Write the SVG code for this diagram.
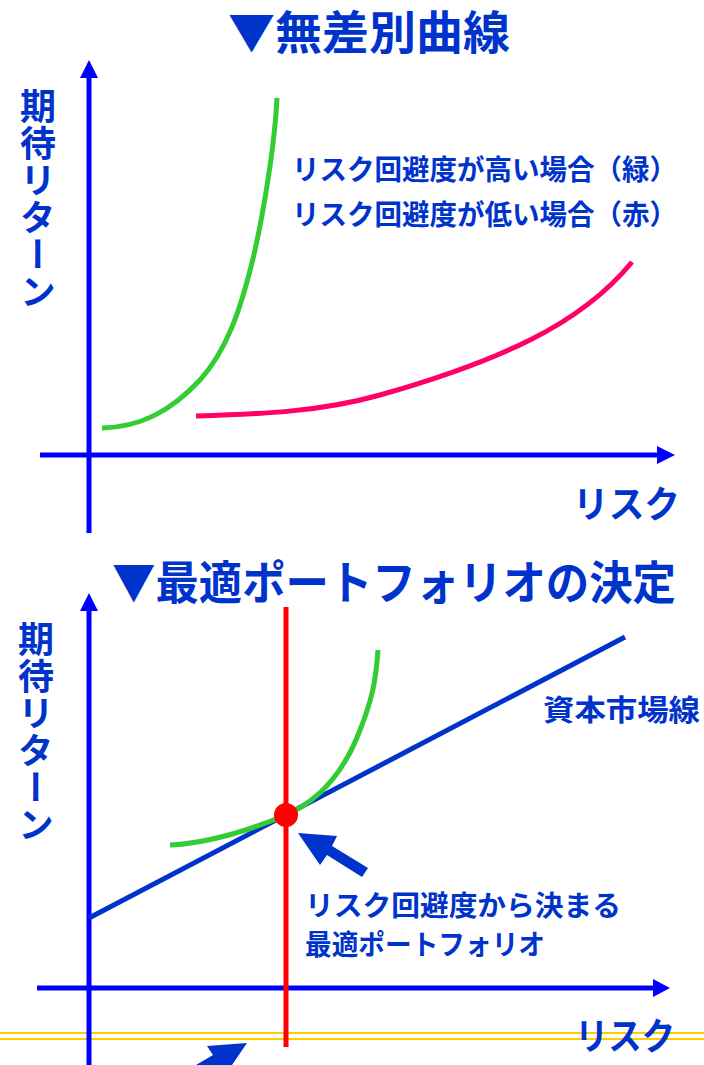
<svg xmlns="http://www.w3.org/2000/svg" width="704" height="1065" viewBox="0 0 704 1065">
<style>
text{font-family:"Noto Sans CJK JP","Noto Sans",sans-serif;font-weight:bold;fill:#0033CC}
.axis{stroke:#0000FF;stroke-width:5;fill:none}
.head{fill:#0000FF}
.curve{fill:none;stroke-width:5;stroke-linecap:butt}
.vlab{writing-mode:vertical-rl;font-size:36px;letter-spacing:1px}
</style>
<rect width="704" height="1065" fill="#FFFFFF"/>
<g id="bg-lines">
<line x1="0" y1="1033" x2="704" y2="1033" stroke="#FFCC00" stroke-width="2"/>
<line x1="0" y1="1039" x2="704" y2="1039" stroke="#FFCC00" stroke-width="2"/>
</g>
<g id="title1"><text x="228" y="49" font-size="46" textLength="282" lengthAdjust="spacingAndGlyphs">▼無差別曲線</text></g>
<g id="chart1-axes">
<line class="axis" x1="89" y1="533" x2="89" y2="74"/>
<polygon class="head" points="89,60 98,78 80,78"/>
<line class="axis" x1="40" y1="455" x2="660" y2="455"/>
<polygon class="head" points="675,455 657,446 657,464"/>
</g>
<g id="chart1-ylabel"><text class="vlab" x="38" y="88">期待リターン</text></g>
<g id="chart1-xlabel"><text x="573" y="518" font-size="37" textLength="107" lengthAdjust="spacingAndGlyphs">リスク</text></g>
<g id="chart1-curves">
<path class="curve" stroke="#33CC33" d="M102,428 C140,427 170,412 200,380 C225,352 240,315 255,250 C265,205 275,140 277,98"/>
<path class="curve" stroke="#FF0066" d="M196,416 C260,414 320,412 380,395 C440,378 490,360 530,340 C570,320 605,295 632,262"/>
</g>
<g id="chart1-legend">
<text x="292" y="180" font-size="28" textLength="385" lengthAdjust="spacingAndGlyphs">リスク回避度が高い場合（緑）</text>
<text x="292" y="225" font-size="28" textLength="385" lengthAdjust="spacingAndGlyphs">リスク回避度が低い場合（赤）</text>
</g>
<g id="title2"><text x="112" y="599" font-size="46" textLength="564" lengthAdjust="spacingAndGlyphs">▼最適ポートフォリオの決定</text></g>
<g id="chart2-axes">
<line class="axis" x1="89" y1="1065" x2="89" y2="608"/>
<polygon class="head" points="89,593 98,611 80,611"/>
<line class="axis" x1="37" y1="988" x2="655" y2="988"/>
<polygon class="head" points="670,988 653,979 653,997"/>
</g>
<g id="chart2-ylabel"><text class="vlab" x="36" y="621">期待リターン</text></g>
<g id="chart2-xlabel"><text x="575" y="1050" font-size="37" textLength="100" lengthAdjust="spacingAndGlyphs">リスク</text></g>
<g id="connectors">
<line x1="286" y1="607" x2="286" y2="1047" stroke="#FF0000" stroke-width="5"/>
<line x1="89" y1="918" x2="625" y2="637" stroke="#0033CC" stroke-width="5"/>
<path class="curve" stroke="#33CC33" d="M170,845 C210,843 250,830 286,815 C320,800 345,770 360,730 C372,700 376,680 378,650"/>
<polygon fill="#0033CC" points="298,833 337,836 332,846 368,868 362,877 327,855 320,865"/>
<polygon fill="#0033CC" points="247,1043 207,1046 213,1055 196,1065 232,1065"/>
</g>
<g id="optimum"><circle cx="286" cy="815" r="12" fill="#FF0000"/></g>
<g id="cml-label"><text x="543" y="721" font-size="29" textLength="157" lengthAdjust="spacingAndGlyphs">資本市場線</text></g>
<g id="optimum-label">
<text x="305" y="916" font-size="28" textLength="316" lengthAdjust="spacingAndGlyphs">リスク回避度から決まる</text>
<text x="305" y="955" font-size="28" textLength="240" lengthAdjust="spacingAndGlyphs">最適ポートフォリオ</text>
</g>
</svg>
